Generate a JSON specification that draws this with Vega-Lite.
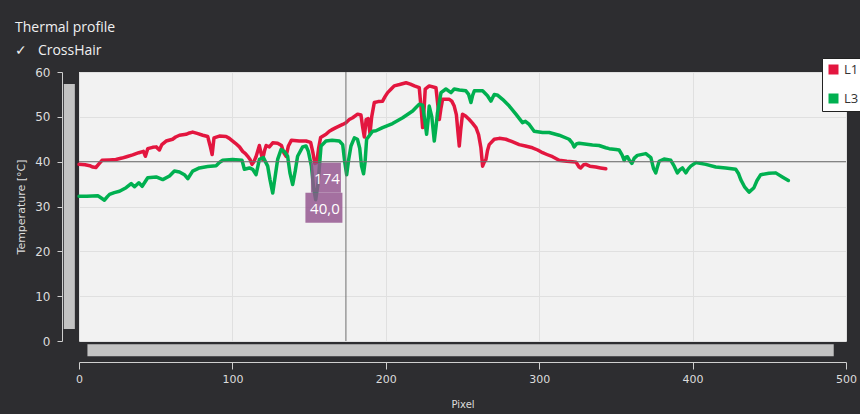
{
  "$schema": "https://vega.github.io/schema/vega-lite/v6.json",
  "width": 767,
  "height": 269,
  "autosize": {"type": "none"},
  "padding": {"left": 79, "top": 72, "right": 14, "bottom": 73},
  "background": "#2d2d30",
  "title": {
    "text": "Thermal profile",
    "subtitle": "\u00a0✓\u00a0\u00a0\u00a0CrossHair",
    "anchor": "start",
    "frame": "group",
    "dx": -64,
    "dy": 2,
    "offset": 2,
    "font": "Open Sans",
    "fontSize": 14,
    "fontWeight": "normal",
    "color": "#f0f0f0",
    "subtitleFont": "Open Sans",
    "subtitleFontSize": 14,
    "subtitleColor": "#f0f0f0",
    "subtitlePadding": 9
  },
  "config": {
    "view": {"fill": "#f2f2f2", "stroke": null},
    "axis": {
      "labelFont": "DejaVu Sans",
      "titleFont": "DejaVu Sans",
      "labelColor": "#dcdcdc",
      "titleColor": "#dcdcdc",
      "domainColor": "#cfcfcf",
      "tickColor": "#cfcfcf",
      "gridColor": "#e0e0e0",
      "titleFontWeight": "normal"
    }
  },
  "layer": [
    {
      "data": {"values": [
        {"s":"L1","x":0,"y":39.4},{"s":"L1","x":4,"y":39.3},{"s":"L1","x":7,"y":39.1},{"s":"L1","x":9,"y":38.8},{"s":"L1","x":11,"y":38.7},{"s":"L1","x":13,"y":39.5},{"s":"L1","x":15,"y":40.3},{"s":"L1","x":20,"y":40.4},{"s":"L1","x":24,"y":40.5},{"s":"L1","x":28,"y":40.8},{"s":"L1","x":31,"y":41.1},{"s":"L1","x":35,"y":41.5},{"s":"L1","x":39,"y":42.0},{"s":"L1","x":42,"y":42.3},{"s":"L1","x":43.3,"y":41.2},{"s":"L1","x":44.8,"y":42.9},{"s":"L1","x":48,"y":43.2},{"s":"L1","x":50.3,"y":43.3},{"s":"L1","x":52.4,"y":42.6},{"s":"L1","x":54,"y":43.8},{"s":"L1","x":56.8,"y":44.6},{"s":"L1","x":61,"y":45.0},{"s":"L1","x":63,"y":45.5},{"s":"L1","x":65.5,"y":45.9},{"s":"L1","x":69.8,"y":46.1},{"s":"L1","x":72,"y":46.4},{"s":"L1","x":74.1,"y":46.6},{"s":"L1","x":77,"y":46.3},{"s":"L1","x":80.7,"y":45.9},{"s":"L1","x":83.9,"y":45.6},{"s":"L1","x":85.5,"y":43.5},{"s":"L1","x":86.8,"y":41.6},{"s":"L1","x":88,"y":45.3},{"s":"L1","x":91.5,"y":45.7},{"s":"L1","x":95.9,"y":45.6},{"s":"L1","x":98,"y":45.2},{"s":"L1","x":100.2,"y":44.6},{"s":"L1","x":102,"y":44.1},{"s":"L1","x":104.6,"y":43.3},{"s":"L1","x":106.7,"y":42.3},{"s":"L1","x":108.5,"y":41.8},{"s":"L1","x":110,"y":41.2},{"s":"L1","x":111.5,"y":40.5},{"s":"L1","x":112.8,"y":39.4},{"s":"L1","x":114,"y":40.0},{"s":"L1","x":115.4,"y":41.1},{"s":"L1","x":117.6,"y":43.6},{"s":"L1","x":118.6,"y":42.0},{"s":"L1","x":119.7,"y":40.5},{"s":"L1","x":121,"y":42.5},{"s":"L1","x":122,"y":43.6},{"s":"L1","x":124.1,"y":43.3},{"s":"L1","x":126.3,"y":44.2},{"s":"L1","x":129.5,"y":44.1},{"s":"L1","x":132,"y":43.6},{"s":"L1","x":133.5,"y":42.0},{"s":"L1","x":135,"y":41.2},{"s":"L1","x":136.5,"y":43.5},{"s":"L1","x":138.5,"y":44.8},{"s":"L1","x":143.6,"y":44.6},{"s":"L1","x":148,"y":44.6},{"s":"L1","x":151,"y":44.3},{"s":"L1","x":152.5,"y":42.0},{"s":"L1","x":153.7,"y":39.6},{"s":"L1","x":155,"y":39.8},{"s":"L1","x":156.2,"y":43.0},{"s":"L1","x":157.5,"y":45.4},{"s":"L1","x":161,"y":46.1},{"s":"L1","x":163.2,"y":46.8},{"s":"L1","x":165.3,"y":47.2},{"s":"L1","x":167.5,"y":47.6},{"s":"L1","x":171.9,"y":48.3},{"s":"L1","x":174,"y":48.7},{"s":"L1","x":176.2,"y":49.4},{"s":"L1","x":178.4,"y":49.8},{"s":"L1","x":181.6,"y":50.6},{"s":"L1","x":183.8,"y":50.4},{"s":"L1","x":185,"y":47.5},{"s":"L1","x":186,"y":45.5},{"s":"L1","x":187.2,"y":49.4},{"s":"L1","x":188.5,"y":49.6},{"s":"L1","x":189.7,"y":46.3},{"s":"L1","x":190.8,"y":50.0},{"s":"L1","x":192.5,"y":53.2},{"s":"L1","x":195,"y":53.4},{"s":"L1","x":197.9,"y":53.5},{"s":"L1","x":199.5,"y":54.5},{"s":"L1","x":201.2,"y":55.4},{"s":"L1","x":203.5,"y":56.2},{"s":"L1","x":205.5,"y":56.9},{"s":"L1","x":209,"y":57.2},{"s":"L1","x":213.2,"y":57.6},{"s":"L1","x":216,"y":57.3},{"s":"L1","x":218.6,"y":56.9},{"s":"L1","x":221.8,"y":56.5},{"s":"L1","x":223,"y":52.0},{"s":"L1","x":224,"y":47.6},{"s":"L1","x":225,"y":52.0},{"s":"L1","x":225.7,"y":56.2},{"s":"L1","x":228.3,"y":56.9},{"s":"L1","x":232.7,"y":56.5},{"s":"L1","x":233.8,"y":53.0},{"s":"L1","x":234.9,"y":49.4},{"s":"L1","x":236,"y":52.0},{"s":"L1","x":237,"y":53.9},{"s":"L1","x":241.4,"y":53.9},{"s":"L1","x":243,"y":53.5},{"s":"L1","x":244.6,"y":52.4},{"s":"L1","x":246,"y":50.5},{"s":"L1","x":247.2,"y":46.0},{"s":"L1","x":247.9,"y":43.5},{"s":"L1","x":248.8,"y":47.0},{"s":"L1","x":250,"y":50.6},{"s":"L1","x":252,"y":50.2},{"s":"L1","x":254.4,"y":49.4},{"s":"L1","x":256.5,"y":48.6},{"s":"L1","x":258.8,"y":47.6},{"s":"L1","x":260.5,"y":46.0},{"s":"L1","x":262,"y":43.1},{"s":"L1","x":263.1,"y":39.0},{"s":"L1","x":264.3,"y":40.0},{"s":"L1","x":265.3,"y":40.5},{"s":"L1","x":266.3,"y":42.5},{"s":"L1","x":267.4,"y":43.8},{"s":"L1","x":270.7,"y":45.0},{"s":"L1","x":274,"y":45.2},{"s":"L1","x":278.3,"y":45.0},{"s":"L1","x":282,"y":44.5},{"s":"L1","x":287,"y":43.8},{"s":"L1","x":291,"y":43.5},{"s":"L1","x":295.6,"y":43.1},{"s":"L1","x":299,"y":42.6},{"s":"L1","x":302.2,"y":42.0},{"s":"L1","x":305,"y":41.6},{"s":"L1","x":308.7,"y":41.1},{"s":"L1","x":313,"y":40.3},{"s":"L1","x":318,"y":40.1},{"s":"L1","x":321.7,"y":40.0},{"s":"L1","x":324,"y":39.9},{"s":"L1","x":326,"y":38.8},{"s":"L1","x":327,"y":38.6},{"s":"L1","x":329,"y":39.3},{"s":"L1","x":330.4,"y":39.4},{"s":"L1","x":333,"y":39.0},{"s":"L1","x":336.9,"y":38.8},{"s":"L1","x":340,"y":38.6},{"s":"L1","x":343.4,"y":38.4},
        {"s":"L3","x":0,"y":32.3},{"s":"L3","x":5,"y":32.3},{"s":"L3","x":12.3,"y":32.4},{"s":"L3","x":14.5,"y":31.9},{"s":"L3","x":16.6,"y":31.4},{"s":"L3","x":18.5,"y":32.2},{"s":"L3","x":19.9,"y":32.7},{"s":"L3","x":23,"y":33.1},{"s":"L3","x":26.4,"y":33.4},{"s":"L3","x":30.7,"y":34.2},{"s":"L3","x":34,"y":35.1},{"s":"L3","x":36.2,"y":34.4},{"s":"L3","x":39,"y":35.3},{"s":"L3","x":41.2,"y":34.5},{"s":"L3","x":44.8,"y":36.4},{"s":"L3","x":50.3,"y":36.6},{"s":"L3","x":54.6,"y":36.0},{"s":"L3","x":59,"y":36.8},{"s":"L3","x":62.2,"y":37.9},{"s":"L3","x":65.5,"y":37.7},{"s":"L3","x":68.7,"y":37.1},{"s":"L3","x":70.9,"y":36.2},{"s":"L3","x":74.1,"y":37.9},{"s":"L3","x":78.5,"y":38.6},{"s":"L3","x":83.9,"y":38.9},{"s":"L3","x":89.4,"y":39.1},{"s":"L3","x":91.5,"y":39.8},{"s":"L3","x":93.7,"y":40.3},{"s":"L3","x":100.2,"y":40.5},{"s":"L3","x":106.3,"y":40.3},{"s":"L3","x":107.8,"y":38.3},{"s":"L3","x":111.1,"y":38.6},{"s":"L3","x":113.2,"y":38.3},{"s":"L3","x":115.4,"y":37.1},{"s":"L3","x":117.6,"y":40.5},{"s":"L3","x":120.2,"y":40.9},{"s":"L3","x":123,"y":39.0},{"s":"L3","x":124.5,"y":36.0},{"s":"L3","x":126.3,"y":33.0},{"s":"L3","x":127.8,"y":36.5},{"s":"L3","x":129.5,"y":40.5},{"s":"L3","x":131.7,"y":42.7},{"s":"L3","x":134,"y":42.2},{"s":"L3","x":136,"y":41.2},{"s":"L3","x":137.5,"y":37.5},{"s":"L3","x":139.3,"y":34.9},{"s":"L3","x":141,"y":38.0},{"s":"L3","x":142.5,"y":41.2},{"s":"L3","x":145.8,"y":43.3},{"s":"L3","x":148,"y":43.5},{"s":"L3","x":149.5,"y":42.3},{"s":"L3","x":151.5,"y":39.0},{"s":"L3","x":153,"y":34.0},{"s":"L3","x":154.3,"y":31.5},{"s":"L3","x":155.8,"y":35.0},{"s":"L3","x":157.2,"y":41.0},{"s":"L3","x":157.8,"y":43.5},{"s":"L3","x":161,"y":44.6},{"s":"L3","x":165,"y":44.8},{"s":"L3","x":169.7,"y":44.6},{"s":"L3","x":171.9,"y":43.8},{"s":"L3","x":173.2,"y":40.0},{"s":"L3","x":174.5,"y":37.1},{"s":"L3","x":175.8,"y":40.5},{"s":"L3","x":177.3,"y":43.5},{"s":"L3","x":179.5,"y":45.3},{"s":"L3","x":181.5,"y":45.0},{"s":"L3","x":183,"y":43.0},{"s":"L3","x":184.2,"y":39.0},{"s":"L3","x":185.5,"y":37.3},{"s":"L3","x":186.5,"y":40.0},{"s":"L3","x":187.5,"y":45.0},{"s":"L3","x":191.4,"y":46.8},{"s":"L3","x":193.6,"y":46.9},{"s":"L3","x":197.9,"y":47.6},{"s":"L3","x":204.4,"y":48.5},{"s":"L3","x":211,"y":49.8},{"s":"L3","x":217.5,"y":51.3},{"s":"L3","x":220,"y":52.2},{"s":"L3","x":221.8,"y":52.8},{"s":"L3","x":224,"y":52.6},{"s":"L3","x":225.5,"y":49.0},{"s":"L3","x":226.6,"y":46.1},{"s":"L3","x":227.5,"y":49.0},{"s":"L3","x":228.3,"y":52.4},{"s":"L3","x":230,"y":50.0},{"s":"L3","x":231.6,"y":44.6},{"s":"L3","x":232.8,"y":48.0},{"s":"L3","x":233.7,"y":50.9},{"s":"L3","x":235,"y":53.5},{"s":"L3","x":236,"y":55.4},{"s":"L3","x":239.2,"y":56.2},{"s":"L3","x":242.5,"y":55.4},{"s":"L3","x":244.6,"y":56.2},{"s":"L3","x":248,"y":56.0},{"s":"L3","x":252.2,"y":55.8},{"s":"L3","x":254,"y":55.0},{"s":"L3","x":255.5,"y":53.2},{"s":"L3","x":256.6,"y":54.8},{"s":"L3","x":257.7,"y":55.8},{"s":"L3","x":263.1,"y":55.8},{"s":"L3","x":266.3,"y":54.7},{"s":"L3","x":268.5,"y":53.5},{"s":"L3","x":270.7,"y":55.0},{"s":"L3","x":273,"y":54.8},{"s":"L3","x":276.1,"y":53.9},{"s":"L3","x":280.5,"y":52.4},{"s":"L3","x":284.8,"y":50.6},{"s":"L3","x":289.1,"y":48.7},{"s":"L3","x":291,"y":49.0},{"s":"L3","x":293.5,"y":48.3},{"s":"L3","x":296.7,"y":46.8},{"s":"L3","x":302.2,"y":46.5},{"s":"L3","x":306.5,"y":46.5},{"s":"L3","x":313,"y":45.9},{"s":"L3","x":319.5,"y":45.0},{"s":"L3","x":321.5,"y":44.2},{"s":"L3","x":322.8,"y":43.3},{"s":"L3","x":324.5,"y":44.0},{"s":"L3","x":326,"y":44.1},{"s":"L3","x":334.7,"y":43.7},{"s":"L3","x":339,"y":43.6},{"s":"L3","x":343.4,"y":43.1},{"s":"L3","x":345.6,"y":42.9},{"s":"L3","x":350,"y":42.7},{"s":"L3","x":352.1,"y":42.6},{"s":"L3","x":354,"y":41.5},{"s":"L3","x":355.4,"y":40.3},{"s":"L3","x":356.5,"y":41.0},{"s":"L3","x":357.5,"y":41.1},{"s":"L3","x":359,"y":40.2},{"s":"L3","x":360.4,"y":39.6},{"s":"L3","x":362,"y":40.8},{"s":"L3","x":364,"y":41.4},{"s":"L3","x":369.5,"y":41.8},{"s":"L3","x":372.8,"y":40.9},{"s":"L3","x":374.5,"y":38.5},{"s":"L3","x":376,"y":37.5},{"s":"L3","x":377.2,"y":39.0},{"s":"L3","x":378.2,"y":40.1},{"s":"L3","x":381.4,"y":40.6},{"s":"L3","x":385.8,"y":40.3},{"s":"L3","x":388,"y":39.0},{"s":"L3","x":390.1,"y":37.5},{"s":"L3","x":391.8,"y":38.2},{"s":"L3","x":393.4,"y":38.6},{"s":"L3","x":395.6,"y":37.5},{"s":"L3","x":397.2,"y":38.4},{"s":"L3","x":398.8,"y":39.0},{"s":"L3","x":402.1,"y":39.8},{"s":"L3","x":408.6,"y":39.4},{"s":"L3","x":415.1,"y":38.8},{"s":"L3","x":421.6,"y":38.6},{"s":"L3","x":428.1,"y":38.3},{"s":"L3","x":430,"y":37.3},{"s":"L3","x":431.4,"y":36.0},{"s":"L3","x":434,"y":34.3},{"s":"L3","x":436.8,"y":33.2},{"s":"L3","x":440,"y":34.2},{"s":"L3","x":442,"y":35.8},{"s":"L3","x":444.4,"y":37.1},{"s":"L3","x":449.8,"y":37.4},{"s":"L3","x":454.2,"y":37.5},{"s":"L3","x":458.5,"y":36.6},{"s":"L3","x":462.4,"y":35.8}
      ]},
      "mark": {"type": "line", "strokeWidth": 3.5, "strokeJoin": "round", "strokeCap": "round"},
      "encoding": {
        "x": {"field": "x", "type": "quantitative",
          "scale": {"domain": [0, 500], "nice": false},
          "axis": {"values": [0, 100, 200, 300, 400, 500], "offset": 21, "tickSize": 7, "labelPadding": 4, "labelFontSize": 11, "labelFlush": false, "title": "Pixel", "titleFontSize": 10, "titlePadding": 15}},
        "y": {"field": "y", "type": "quantitative",
          "scale": {"domain": [0, 60], "nice": false},
          "axis": {"values": [0, 10, 20, 30, 40, 50, 60], "offset": 17, "tickSize": 5, "labelPadding": 7, "labelFontSize": 12, "title": "Temperature [°C]", "titleFontSize": 11, "titlePadding": 8}},
        "color": {"field": "s", "type": "nominal",
          "scale": {"domain": ["L1", "L3"], "range": ["#e3163f", "#00b050"]},
          "legend": {"orient": "none", "legendX": 743, "legendY": -14, "title": null,
            "fillColor": "white", "strokeColor": "#222", "padding": 5, "cornerRadius": 0,
            "symbolType": "square", "symbolSize": 100, "symbolStrokeWidth": 0,
            "labelFont": "Open Sans", "labelFontSize": 13, "labelColor": "#333", "labelOffset": 4, "rowPadding": 15,
            "encode": {"symbols": {"update": {"fill": {"scale": "color", "field": "value"}, "stroke": {"value": "transparent"}}}}}}
      }
    },
    {
      "data": {"values": [{"x": 174, "y": 40, "lx": "174", "ly": "40,0"}]},
      "layer": [
        {"mark": {"type": "rule", "color": "#707070", "strokeWidth": 1}, "encoding": {"x": {"field": "x", "type": "quantitative"}}},
        {"mark": {"type": "rule", "color": "#707070", "strokeWidth": 1}, "encoding": {"y": {"field": "y", "type": "quantitative"}}},
        {"mark": {"type": "point", "shape": "square", "size": 900, "filled": true, "color": "#93538d", "opacity": 0.82, "strokeWidth": 0, "xOffset": -20, "yOffset": 16},
         "encoding": {"x": {"field": "x", "type": "quantitative"}, "y": {"field": "y", "type": "quantitative"}}},
        {"mark": {"type": "point", "shape": "M-1,-0.81H1V0.81H-1Z", "size": 1369, "filled": true, "color": "#93538d", "opacity": 0.82, "strokeWidth": 0, "xOffset": -22, "yOffset": 46},
         "encoding": {"x": {"field": "x", "type": "quantitative"}, "y": {"field": "y", "type": "quantitative"}}},
        {"mark": {"type": "text", "color": "white", "font": "Open Sans", "fontSize": 15, "dx": -19, "dy": 17},
         "encoding": {"x": {"field": "x", "type": "quantitative"}, "y": {"field": "y", "type": "quantitative"}, "text": {"field": "lx"}}},
        {"mark": {"type": "text", "color": "white", "font": "Open Sans", "fontSize": 15, "dx": -21, "dy": 47},
         "encoding": {"x": {"field": "x", "type": "quantitative"}, "y": {"field": "y", "type": "quantitative"}, "text": {"field": "ly"}}}
      ]
    },
    {
      "data": {"values": [{}]},
      "layer": [
        {"mark": {"type": "rect", "color": "#c3c3c3"},
         "encoding": {"x": {"datum": 5.5}, "x2": {"datum": 492}, "y": {"datum": -0.7}, "y2": {"datum": -3.4}}},
        {"mark": {"type": "rect", "color": "#c3c3c3"},
         "encoding": {"x": {"datum": -9.9}, "x2": {"datum": -2.7}, "y": {"datum": 57.3}, "y2": {"datum": 2.7}}}
      ]
    }
  ]
}
